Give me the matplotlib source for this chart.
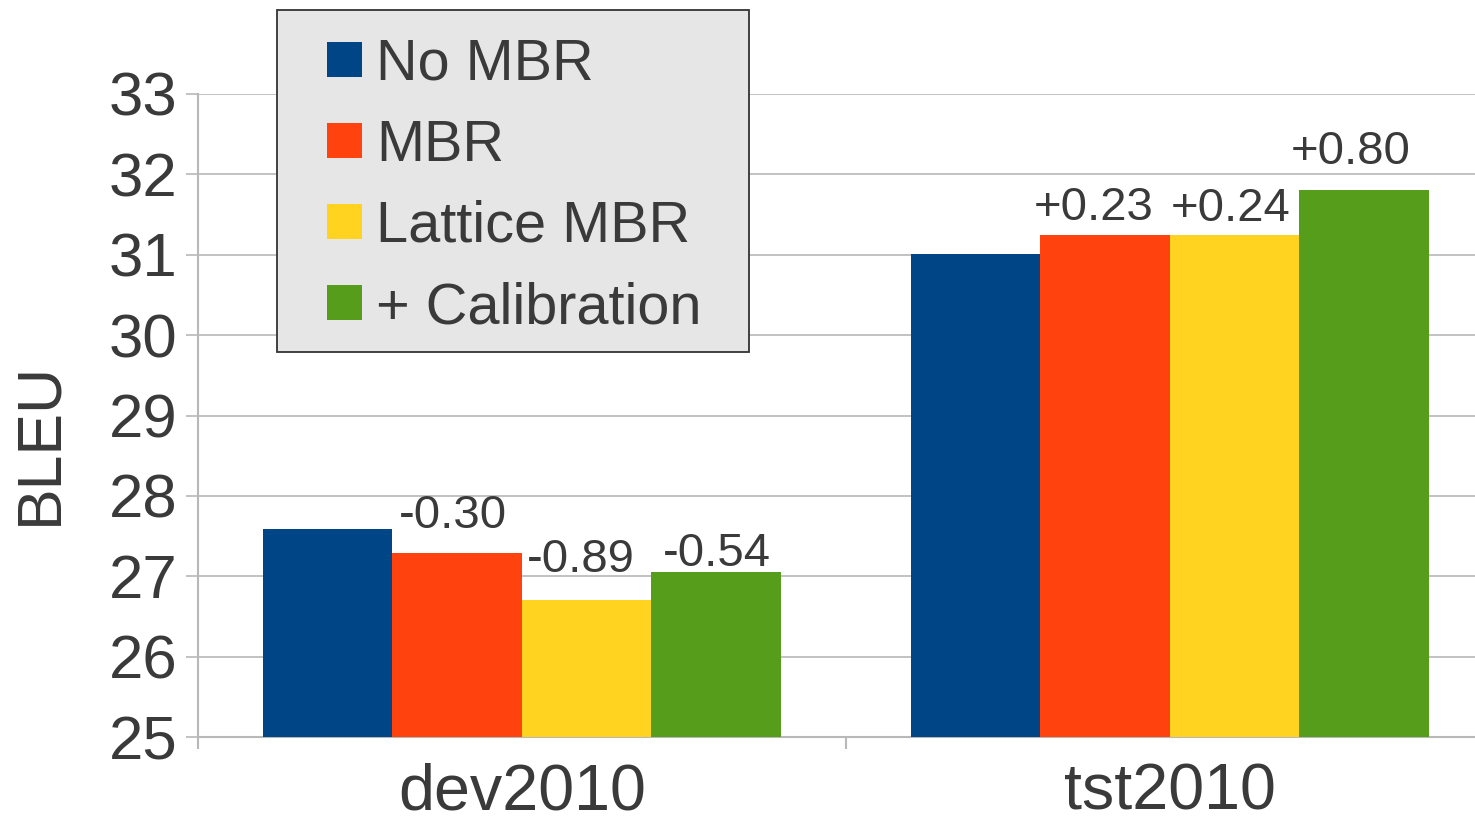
import matplotlib
matplotlib.use("Agg")
import matplotlib.pyplot as plt
import numpy as np
from matplotlib.patches import Rectangle

categories = ["dev2010", "tst2010"]
series = ["No MBR", "MBR", "Lattice MBR", "+ Calibration"]
no_mbr = [27.59, 31.01]
mbr = [27.29, 31.24]
lattice_mbr = [26.70, 31.25]
calibration = [27.05, 31.81]
values = [no_mbr, mbr, lattice_mbr, calibration]
diff_labels = [[None, None], ["-0.30", "+0.23"], ["-0.89", "+0.24"], ["-0.54", "+0.80"]]
colors = ["#004586", "#ff420e", "#ffd320", "#579d1c"]
yticks = [25, 26, 27, 28, 29, 30, 31, 32, 33]

# label placement offsets (pixels: dx, dy above bar top) as drawn in the original
label_offsets = [[None, None], [(-4.5, 25), (-11, 15)], [(-5.5, 28), (-4, 14)], [(0.5, 6), (-13, 26)]]

plt.rcParams['font.family'] = ['Liberation Sans', 'DejaVu Sans']
TXT = "#3a3a3a"
GRID = "#b8b8b8"

W, H = 1475, 818
fig = plt.figure(figsize=(W / 100, H / 100), dpi=100)
left, right, top, bottom = 198, 1493.5, 94, 737
ax = fig.add_axes([left / W, (H - bottom) / H, (right - left) / W, (bottom - top) / H])

x = np.arange(len(categories))
bw = 0.2
px2pt = 72 / 100
for j, (vals, c) in enumerate(zip(values, colors)):
    pos = x + (j - 1.5) * bw
    ax.bar(pos, np.array(vals) - 25, bottom=25, width=bw, color=c, zorder=3, linewidth=0)
    for k, (p, v, lab) in enumerate(zip(pos, vals, diff_labels[j])):
        if lab:
            dx, dy = label_offsets[j][k]
            ax.annotate(lab, (p, v), xytext=(dx * px2pt, dy * px2pt), textcoords="offset points",
                        ha="center", va="baseline", fontsize=34, color=TXT, zorder=4)

ax.set_xlim(-0.5, 1.5)
ax.set_ylim(25, 33)
ax.set_yticks(yticks)
ax.set_yticklabels([str(t) for t in yticks])
ax.yaxis.grid(True, color=GRID, linewidth=1.2, zorder=0)
ax.tick_params(axis="y", length=8.6, width=1.2, color=GRID, pad=6, labelsize=44.5, labelcolor=TXT)
ax.set_xticks(x)
ax.set_xticklabels(categories)
ax.tick_params(axis="x", which="major", length=0, pad=18.5, labelsize=46.5, labelcolor=TXT)
ax.set_xticks([-0.5, 0.5, 1.5], minor=True)
ax.tick_params(axis="x", which="minor", length=8.6, width=1.5, color=GRID)
for s in ["top", "right"]:
    ax.spines[s].set_visible(False)
for s in ["left", "bottom"]:
    ax.spines[s].set_color(GRID)
    ax.spines[s].set_linewidth(1.5)
ax.spines["left"].set_zorder(1)

fig.text(40 / W, 1 - 443 / H, "BLEU", rotation=90, ha="center", va="center", fontsize=45, color=TXT)

# legend box
lx0, lx1, ly0, ly1 = 277, 749, 10, 352
fig.patches.append(Rectangle((lx0 / W, 1 - ly1 / H), (lx1 - lx0) / W, (ly1 - ly0) / H,
                             transform=fig.transFigure, facecolor="#e6e6e6",
                             edgecolor="#333333", linewidth=1.3, zorder=10))
baselines = [80, 161, 242, 323]
for name, c, b in zip(series, colors, baselines):
    fig.patches.append(Rectangle((327 / W, 1 - (b - 3) / H), 35 / W, 35 / H,
                                 transform=fig.transFigure, facecolor=c, edgecolor="none", zorder=11))
    fig.text(376 / W, 1 - b / H, name, ha="left", va="baseline", fontsize=41.5, color=TXT, zorder=12)

fig.savefig("out.png", dpi=100)
